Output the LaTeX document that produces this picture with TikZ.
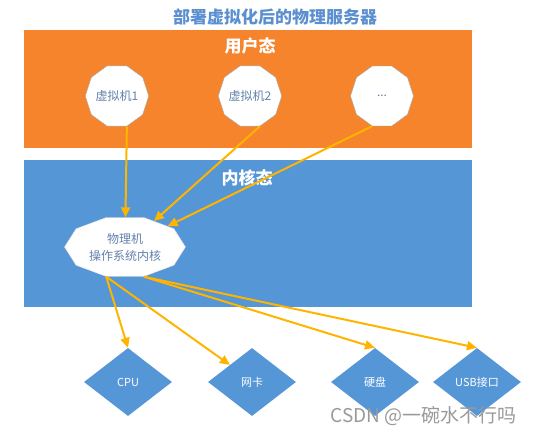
\documentclass[tikz,border=0pt]{standalone}
\usepackage{fontspec}
\setmainfont{Noto Sans CJK SC}
\usetikzlibrary{shapes.geometric,arrows.meta}

\definecolor{userorange}{HTML}{F5842C}
\definecolor{kernblue}{HTML}{5596D6}
\definecolor{linkgold}{HTML}{FFB400}
\definecolor{titleblue}{HTML}{5B8FD0}
\definecolor{vmtext}{HTML}{6282AA}

\tikzset{
  vm/.style={regular polygon, regular polygon sides=10, minimum size=63pt, inner sep=0pt,
    draw=black!35, fill=white, text=vmtext, font=\fontsize{12}{14}\selectfont},
  dev/.style={diamond, minimum width=88pt, minimum height=68pt, inner sep=0pt,
    fill=kernblue, text=white, font=\fontsize{11}{13}\selectfont},
  link/.style={draw=linkgold, line width=2pt, -{Triangle[length=10pt,width=9pt]}},
  zone/.style={text=white, font=\fontsize{17}{19}\selectfont\bfseries}
}

\begin{document}
\begin{tikzpicture}[x=1pt,y=-1pt]
\useasboundingbox (0,0) rectangle (535,435);

\node[text=titleblue, font=\fontsize{17}{19}\selectfont\bfseries] (title) at (275,17) {部署虚拟化后的物理服务器};

\fill[userorange] (24,30) rectangle (472,148);
\fill[kernblue] (24,160) rectangle (472,307);

\node[zone] (user) at (250,46) {用户态};
\node[zone] (kernel) at (247,178) {内核态};

\node[vm] (vm1) at (117,96) {虚拟机1};
\node[vm] (vm2) at (250,96) {虚拟机2};
\node[vm] (vm3) at (382,96) {...};

\node[regular polygon, regular polygon sides=10, minimum size=62pt, inner sep=0pt,
  xscale=1.95, transform shape, draw=black!12, fill=white] (kern) at (125,247) {};
\node[align=center, text=vmtext, font=\fontsize{12}{17}\selectfont] (kernlbl) at (kern) {物理机\\操作系统内核};

\node[dev] (cpu) at (128,382) {CPU};
\node[dev] (nic) at (252,382) {网卡};
\node[dev] (hdd) at (375,382) {硬盘};
\node[dev] (usb) at (477,382) {USB接口};

\draw[link] (vm1.288) -- (kern);
\draw[link] (vm2.288) -- (kern);
\draw[link] (vm3.252) -- (kern);

\draw[link] (kern.252) -- (cpu.north);
\draw[link] (kern.252) -- (nic.north west);
\draw[link] (kern.288) -- (hdd.north);
\draw[link] (kern.288) -- (usb.north);

\node[anchor=east, text=black!40, font=\fontsize{19}{21}\selectfont] (mark) at (520,416) {CSDN @一碗水不行吗};
\end{tikzpicture}
\end{document}
